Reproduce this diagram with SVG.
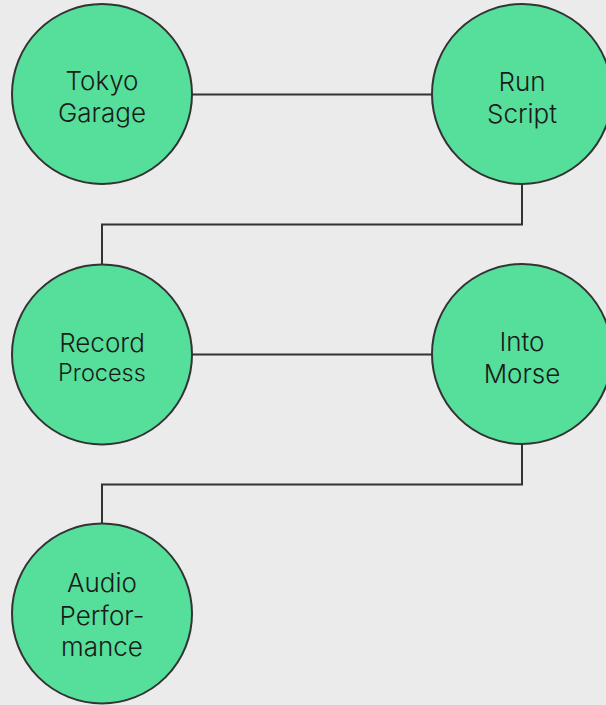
<svg xmlns="http://www.w3.org/2000/svg" width="606" height="705" viewBox="0 0 606 705">
<style>
.n{fill:#55df9b;stroke:#333;stroke-width:2}
.t{font-family:Inter,"Noto Sans",sans-serif;font-weight:300;font-size:26px;fill:#1a1a1a;text-anchor:middle}
.s{font-size:23.5px}
.c{fill:none;stroke:#333;stroke-width:2}
</style>
<rect width="606" height="705" fill="#ebebeb"/>
<g id="connectors">
<path class="c" d="M192 94.5H432"/>
<path class="c" d="M522 184V224.5H102V265"/>
<path class="c" d="M192 354.5H432"/>
<path class="c" d="M522 444V484.5H102V524"/>
</g>
<g id="tokyo"><circle class="n" cx="102" cy="94" r="90"/><text class="t" x="102" y="90">Tokyo</text><text class="t" x="102" y="122">Garage</text></g>
<g id="run"><circle class="n" cx="522" cy="94" r="90"/><text class="t" x="522" y="90.5">Run</text><text class="t" x="522" y="123">Script</text></g>
<g id="record"><circle class="n" cx="102" cy="354.5" r="90"/><text class="t" x="102" y="351.5">Record</text><text class="t s" x="102" y="380.5">Process</text></g>
<g id="morse"><circle class="n" cx="522" cy="354" r="90"/><text class="t" x="522" y="350.5">Into</text><text class="t" x="522" y="382.5">Morse</text></g>
<g id="audio"><circle class="n" cx="102" cy="613.5" r="90"/><text class="t" x="102" y="592">Audio</text><text class="t" x="102" y="624.5">Perfor-</text><text class="t" x="102" y="656">mance</text></g>
</svg>
